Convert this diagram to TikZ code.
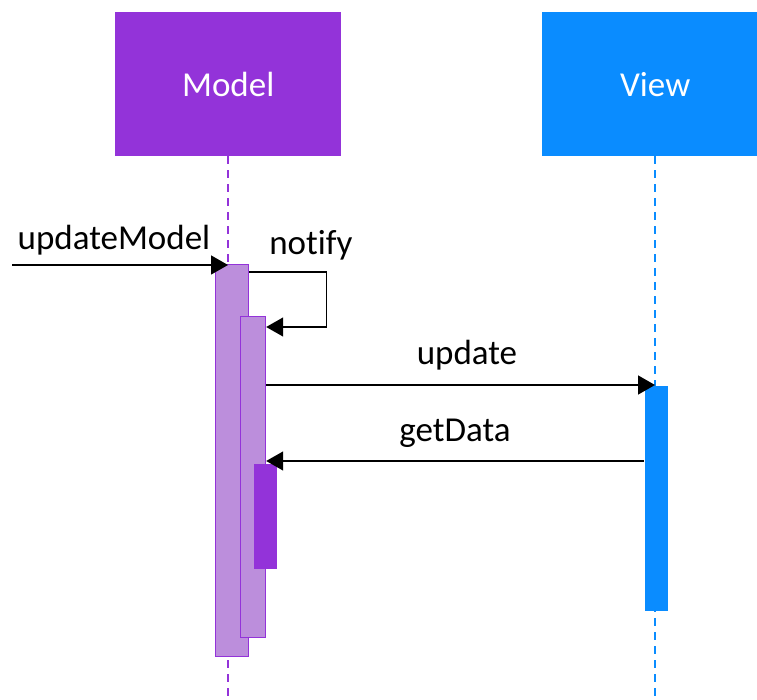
\documentclass[tikz,border=0pt]{standalone}
\usepackage{fontspec}
\setmainfont{Carlito}[Ligatures={NoCommon,NoDiscretionary}]
\usetikzlibrary{arrows.meta}
\definecolor{modelpurple}{HTML}{9333D9}
\definecolor{actpurple}{HTML}{BC8EDC}
\definecolor{viewblue}{HTML}{0A8CFF}

\begin{document}
\begin{tikzpicture}[x=1pt,y=-1pt,
  header/.style={fill=#1, draw=none, minimum width=226pt, minimum height=144pt,
    text=white, font=\fontsize{35}{42}\selectfont, inner sep=0, anchor=north west},
  lifeline/.style={draw=#1, dash pattern=on 8pt off 6pt, line width=1.4pt},
  act/.style={anchor=north west, inner sep=0, line width=1.2pt},
  msg/.style={line width=1.4pt, -{Triangle[length=17pt,width=19pt]}},
  lbl/.style={font=\fontsize{35}{42}\selectfont, text=black, inner sep=0}]
  \useasboundingbox (0,0) rectangle (757,700);

  % participants
  \node[header=modelpurple] (model) at (115,12) {Model};
  \node[header=viewblue] (view) at (542,12) {View};

  % lifelines
  \coordinate (mend) at (228,700);
  \coordinate (vend) at (655,700);
  \draw[lifeline=modelpurple] (model.south -| mend) -- (mend);
  \draw[lifeline=viewblue] (view.south -| vend) -- (vend);

  % activations
  \node[act, draw=modelpurple, fill=actpurple, minimum width=33pt, minimum height=392pt] (a1) at (215,264) {};
  \node[act, draw=modelpurple, fill=actpurple, minimum width=25pt, minimum height=321pt] (a2) at (240,316) {};
  \node[act, fill=modelpurple, minimum width=23pt, minimum height=105pt] (a3) at (253,463) {};
  \node[act, fill=viewblue, minimum width=23pt, minimum height=225pt] (va) at (644,385) {};

  % messages
  \coordinate (src) at (12,265);
  \draw[msg] (src) -- (src -| mend);
  \node[lbl] (lum) at (114,240) {updateModel};

  \draw[msg] ([yshift=-8pt]a1.north east) -- ++(77,0) |- ([yshift=-11pt]a2.north east);
  \node[lbl] (lno) at (311,245) {notify};

  \draw[msg] (a2.east |- va.north) -- (va.north -| vend);
  \node[lbl] (lup) at (467,355) {update};

  \coordinate (gd) at ([yshift=2pt]a3.north east);
  \draw[msg] (va.west |- gd) -- (a2.east |- gd);
  \node[lbl] (lgd) at (455,433) {getData};
\end{tikzpicture}
\end{document}
